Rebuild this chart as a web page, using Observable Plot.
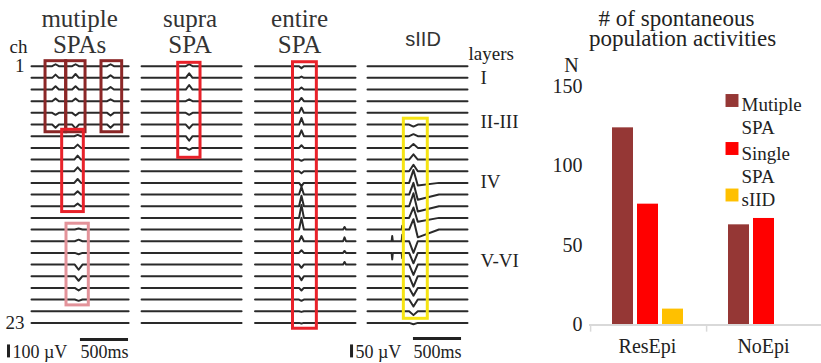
<!DOCTYPE html>
<html><head><meta charset="utf-8">
<script src="https://cdn.jsdelivr.net/npm/d3@7"></script>
<script src="https://cdn.jsdelivr.net/npm/@observablehq/plot@0.6"></script>
<style>
body{margin:0;background:#fff;}
#wrap{display:flex;width:821px;height:363px;overflow:hidden;background:#fff;}
#wrap svg{display:block;overflow:visible;}
#wrap svg text{font-family:'Liberation Serif','Times New Roman',serif;}
#wrap svg text.sans, #wrap svg .sans text{font-family:'Liberation Sans',Arial,sans-serif;}
</style></head><body><div id="wrap"></div>
<script>
// ================= DATA: traces =================
const panels = ["mutiple SPAs", "supra SPA", "entire SPA", "sIID"];
const panelTitles = ["mutiple\nSPAs", "supra\nSPA", "entire\nSPA", "sIID"];
const titleTime = [500, 484, 458, 578];
const channels = d3.range(1, 24);
const traceStart = [0, -20, -5, 0];      // ms
const traceEnd = [1010, 1020, 1040, 1040]; // ms
const uvPerRow = [90, 90, 90, 45];        // µV spanned by one channel spacing
const scaleBarUV = [100, 50];
const scaleBarPanel = [0, 3];
const scaleBarMs = 500;

// spike events: panel, time (ms), half-width (ms), first channel, amplitudes (µV), after-wave (µV)
const evPanel   = [0, 0, 0, 0, 0, 1, 2, 2, 3, 3, 3];
const evTime    = [250, 458, 822, 480, 490, 475, 478, 926, 478, 257, 361];
const evWidth   = [35, 35, 35, 35, 40, 35, 25, 15, 45, 6, 6];
const evFirstCh = [1, 1, 1, 7, 15, 1, 1, 15, 6, 16, 15];
const evAmp = [
  [15, 25, 25, 20, -15, -25],
  [15, 30, 25, 20, -20, -30],
  [15, 20, 20, 15, -20, -25],
  [10, 25, 30, 30, 30, 25, 20],
  [8, 12, -10, -40, -35, -20, -10],
  [15, 35, 35, 15, -15, -30, -35, -15],
  [-15, 10, 15, 25, 40, 50, 45, 20, -10, -15, -25, 60, 80, 100, 90, 40, 20, -25, -30, -20, -10, -5, -5],
  [20, 30, 15, 20],
  [-8, 8, 15, 20, 25, 50, 45, 50, 40, 40, -45, -40, -40, -40, -30, -27, -15, -5],
  [20, -25],
  [15, 25, -20]
];
const evAfter = [null, null, null, null, null, null, null, null,
  [0, 0, 0, 0, 0, -10, -20, -20, -15, -30, 0, 0, 0, 0, 0, 0, 0, 0], null, null];

// highlight boxes
const boxPanel = [0, 0, 0, 0, 0, 1, 2, 3];
const boxT1 = [146, 361, 728, 319, 364, 361, 390, 378];
const boxT2 = [361, 562, 943, 544, 596, 593, 638, 627];
const boxCh1 = [0.57, 0.57, 0.57, 6.45, 14.5, 0.71, 0.66, 5.5];
const boxCh2 = [6.66, 6.66, 6.66, 13.5, 21.5, 8.85, 23.5, 22.65];
const boxColor = ["#8b2727", "#8b2727", "#8b2727", "#e8222a", "#e3939a", "#e8222a", "#e8222a", "#f6e413"];

const layerNames = ["I", "II-III", "IV", "V-VI"];
const layerCh = [2.0, 5.8, 10.95, 17.7];

// ================= DATA: bar chart =================
const groups = ["ResEpi", "NoEpi"];
const series = ["Mutiple SPA", "Single SPA", "sIID"];
const seriesLabels = ["Mutiple\nSPA", "Single\nSPA", "sIID"];
const seriesColors = ["#953735", "#ff0000", "#ffc000"];
const resEpiCounts = [124, 76, 10];
const noEpiCounts = [63, 67, 0];
const yTicks = [0, 50, 100, 150];

// ================= build traces =================
const traceRows = [];
panels.forEach((p, pi) => {
  channels.forEach(ch => {
    const pts = [{t: traceStart[pi], v: 0}];
    evPanel.forEach((ep, ei) => {
      if (ep !== pi) return;
      const k = ch - evFirstCh[ei];
      if (k < 0 || k >= evAmp[ei].length) return;
      const a = evAmp[ei][k];
      const after = evAfter[ei] ? evAfter[ei][k] : 0;
      if (!a && !after) return;
      const w = evWidth[ei], t0 = evTime[ei];
      pts.push({t: t0 - w, v: 0}, {t: t0, v: a}, {t: t0 + w, v: after});
      if (after) pts.push({t: t0 + w + 220, v: 0});
    });
    pts.push({t: traceEnd[pi], v: 0});
    pts.sort((a, b) => a.t - b.t);
    pts.forEach(d => traceRows.push({panel: p, pi, ch, t: d.t, y: ch - d.v / uvPerRow[pi]}));
  });
});

const serif = "'Liberation Serif', 'Times New Roman', serif";
const sans = "'Liberation Sans', Arial, sans-serif";
const ink = "#222";

const left = Plot.plot({
  width: 530, height: 363,
  marginLeft: 31, marginRight: 63, marginTop: 65.7, marginBottom: 40.6,
  style: {fontFamily: serif, fontSize: "19px", background: "white", color: ink, overflow: "visible"},
  fx: {domain: panels, paddingInner: 12 / 112, paddingOuter: 0, axis: null},
  x: {domain: [0, 1040], axis: null},
  y: {domain: [1, 23], reverse: true, axis: null},
  marks: [
    Plot.axisY([1, 23], {tickSize: 0, tickPadding: 7, fontSize: 19, fontFamily: serif, label: null, fill: ink}),
    Plot.line(traceRows, {fx: "panel", x: "t", y: "y", z: d => d.panel + d.ch, stroke: "#2a2a2a", strokeWidth: 2, strokeLinejoin: "round"}),
    Plot.rect(d3.range(boxPanel.length), {
      fx: i => panels[boxPanel[i]], x1: i => boxT1[i], x2: i => boxT2[i],
      y1: i => boxCh1[i], y2: i => boxCh2[i],
      fill: "none", stroke: i => boxColor[i], strokeWidth: 3
    }),
    Plot.text([0, 1, 2], {fx: i => panels[i], x: i => titleTime[i], y: -0.13, text: i => panelTitles[i],
      lineAnchor: "bottom", fontSize: 25, fontFamily: serif, lineHeight: 1.05, fill: "#333"}),
    Plot.text([3], {fx: i => panels[i], x: i => titleTime[i], y: -0.69, text: i => panelTitles[i],
      lineAnchor: "bottom", fontSize: 20, fontFamily: sans, className: "sans", fill: "#333"}),
    Plot.text(["ch"], {fx: () => panels[0], frameAnchor: "left", dx: -13, y: -0.15, textAnchor: "middle", lineAnchor: "bottom", fontSize: 19, fontFamily: serif, fill: ink}),
    Plot.text(["layers"], {fx: () => panels[3], frameAnchor: "right", dx: 1, y: 0.51, textAnchor: "start", lineAnchor: "bottom", fontSize: 19, fontFamily: serif, fill: ink}),
    Plot.text(layerNames, {fx: () => panels[3], frameAnchor: "right", dx: 13, y: (d, i) => layerCh[i], textAnchor: "start", fontSize: 19, fontFamily: serif, fill: ink}),
    // scale bars
    Plot.ruleX([0, 1], {fx: i => panels[scaleBarPanel[i]], x: i => [-239, -166][i],
      y1: 26.0, y2: i => 26.0 - scaleBarUV[i] / uvPerRow[scaleBarPanel[i]], stroke: ink, strokeWidth: 3}),
    Plot.ruleY([0, 1], {fx: i => panels[scaleBarPanel[i]], x1: i => [1009, 978][i] - scaleBarMs, x2: i => [1009, 978][i],
      y: i => [24.42, 24.33][i], stroke: ink, strokeWidth: 3}),
    Plot.text([0, 1], {fx: i => panels[scaleBarPanel[i]], x: i => [-198, -125][i], y: 26.05,
      text: i => `${scaleBarUV[i]} µV`, textAnchor: "start", lineAnchor: "bottom", fontSize: 18, fontFamily: serif, fill: ink}),
    Plot.text([0, 1], {fx: i => panels[scaleBarPanel[i]], x: i => [1009, 978][i] - scaleBarMs / 2, y: 26.05,
      text: () => `${scaleBarMs}ms`, lineAnchor: "bottom", fontSize: 18, fontFamily: serif, fill: ink})
  ]
});

// ================= bar chart =================
const barData = groups.flatMap((g, gi) => series.map((s, si) => ({group: g, series: s, value: (gi === 0 ? resEpiCounts : noEpiCounts)[si]})));
const legendCapTop = [7, 56, 102];
const legendCenter = [14, 62, 108.5];

const right = Plot.plot({
  width: 291, height: 363,
  marginLeft: 59, marginRight: 0, marginTop: 86, marginBottom: 38.5,
  style: {fontFamily: serif, fontSize: "20px", background: "white", color: ink, overflow: "visible"},
  fx: {domain: groups, padding: 0},
  x: {domain: series, paddingInner: 0.17, paddingOuter: 0.85, axis: null},
  y: {domain: [0, 150], axis: null},
  color: {domain: series, range: seriesColors},
  marks: [
    Plot.barY(barData, {fx: "group", x: "series", y: "value", fill: "series"}),
    Plot.ruleY([0], {stroke: "#d9d9d9", strokeWidth: 2}),
    Plot.ruleX([series[0]], {x: d => d, y1: 0, y2: -4.5, dx: -32.4, stroke: "#d9d9d9", strokeWidth: 1.5}),
    Plot.axisY(yTicks, {tickSize: 0, tickPadding: 7, fontSize: 20, fontFamily: serif, label: null, fill: ink}),
    Plot.axisFx({anchor: "bottom", tickSize: 0, tickPadding: 14, fontSize: 20, fontFamily: serif, label: null, fill: ink}),
    Plot.text(["# of spontaneous"], {fx: () => groups[0], frameAnchor: "top-left", dx: 87, dy: -60.5,
      textAnchor: "middle", lineAnchor: "bottom", fontSize: 23, fontFamily: serif, fill: ink}),
    Plot.text(["population activities"], {fx: () => groups[0], frameAnchor: "top-left", dx: 93, dy: -41,
      textAnchor: "middle", lineAnchor: "bottom", fontSize: 23, fontFamily: serif, fill: ink}),
    Plot.text(["N"], {fx: () => groups[0], frameAnchor: "top-left", dx: -18, dy: -14.5, textAnchor: "middle", lineAnchor: "bottom", fontSize: 20, fontFamily: serif, fill: ink}),
    ...series.flatMap((s, i) => [
      Plot.dot([s], {fx: () => groups[1], frameAnchor: "top-left", dx: 26.5, dy: legendCenter[i], symbol: "square", r: 7.3, fill: seriesColors[i]}),
      Plot.text([seriesLabels[i]], {fx: () => groups[1], frameAnchor: "top-left", dx: 36, dy: legendCapTop[i], textAnchor: "start",
        lineAnchor: "top", fontSize: 19, fontFamily: serif, lineHeight: 1.26, fill: ink})
    ])
  ]
});

document.getElementById("wrap").append(left, right);
</script></body></html>
